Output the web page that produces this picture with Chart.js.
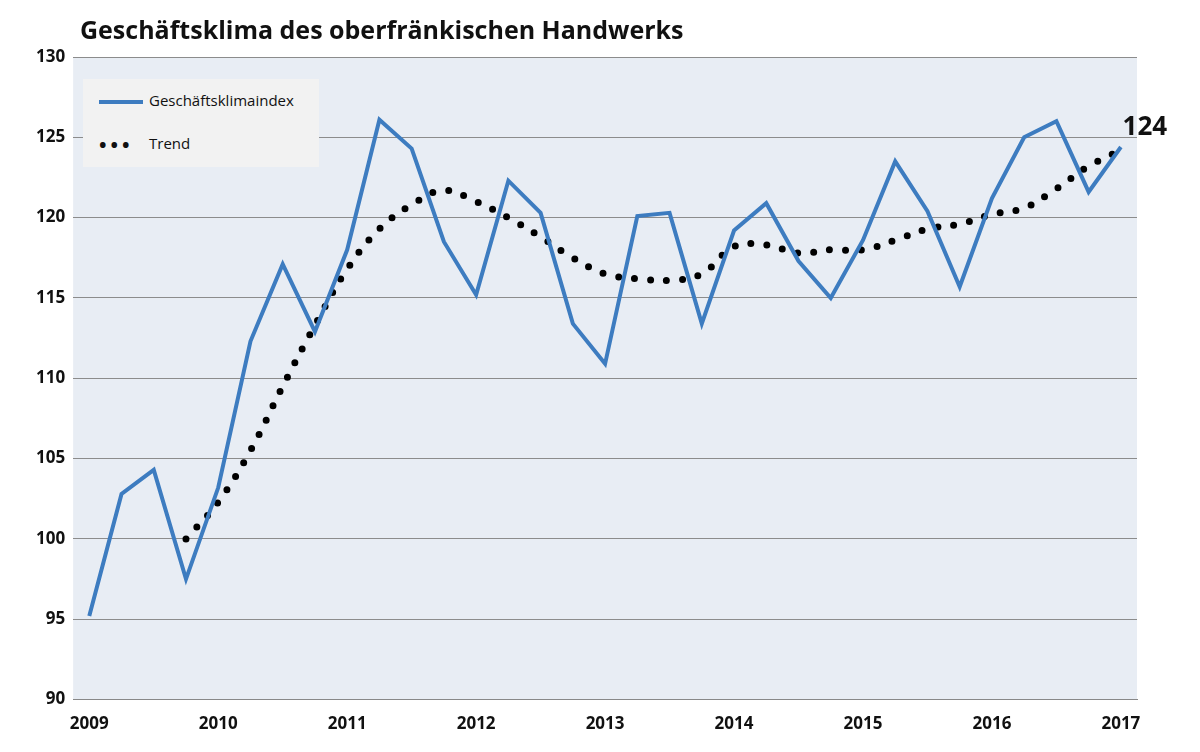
<!DOCTYPE html>
<html><head><meta charset="utf-8">
<script src="https://cdn.jsdelivr.net/npm/chart.js@4"></script>
<style>
body{margin:0;background:#fff;font-family:"Open Sans",sans-serif}
#wrap{position:relative;width:1200px;height:752px}
#title{position:absolute;left:80px;top:12px;font-size:25px;font-weight:bold;color:#111}
#legend{position:absolute;left:83px;top:79px;width:236px;height:88px;background:#f2f2f2;font-size:15px;color:#111}
#legend div{position:absolute;left:16px}
</style></head><body>
<div id="wrap">
<canvas id="c" width="1200" height="752"></canvas>
<div id="title">Geschäftsklima des oberfränkischen Handwerks</div>
<div id="legend">
<div style="top:11px"><span style="display:inline-block;width:44px;height:4px;background:#3d7cc0;vertical-align:middle;margin-right:6px"></span>Geschäftsklimaindex</div>
<div style="top:54px"><span style="display:inline-block;width:44px;vertical-align:middle;margin-right:6px;letter-spacing:4px;font-size:20px;line-height:10px;font-weight:bold">•••</span>Trend</div>
</div>
</div>
<script>
const quarters = [];
for (let y = 2009; y <= 2017; y++) for (let q = 1; q <= 4; q++) if (!(y === 2017 && q > 1)) quarters.push(y + ' Q' + q);

const klima = [95.2, 102.8, 104.3, 97.5, 103.2, 112.3, 117.1, 112.9, 118.0, 126.1, 124.3, 118.5,
  115.2, 122.3, 120.3, 113.4, 110.9, 120.1, 120.3, 113.4, 119.2, 120.9, 117.3, 115.0,
  118.6, 123.5, 120.4, 115.7, 121.2, 125.0, 126.0, 121.6, 124.4];

const trend = [null, null, null, 100.0, 102.3, 105.5, 109.5, 113.3, 116.8, 119.3, 120.8, 121.7,
  121.0, 120.0, 118.8, 117.5, 116.5, 116.2, 116.1, 116.5, 118.2, 118.3, 117.8, 118.0,
  118.0, 118.6, 119.3, 119.6, 120.2, 120.6, 121.8, 123.2, 124.2];

const plotBg = {
  id: 'plotBg',
  beforeDraw(chart) {
    const {ctx, chartArea: a} = chart;
    ctx.save();
    ctx.fillStyle = '#e8edf4';
    ctx.fillRect(a.left, a.top, a.right - a.left, a.bottom - a.top);
    ctx.restore();
  },
  afterDatasetsDraw(chart) {
    const {ctx} = chart;
    const m = chart.getDatasetMeta(0).data;
    const p = m[m.length - 1];
    ctx.save();
    ctx.font = 'bold 26px "Open Sans"';
    ctx.fillStyle = '#111';
    ctx.textAlign = 'center';
    ctx.fillText(Math.round(klima[klima.length - 1]), p.x + 24, p.y - 12);
    ctx.restore();
  }
};

new Chart(document.getElementById('c'), {
  type: 'line',
  data: {
    labels: quarters,
    datasets: [
      {label: 'Geschäftsklimaindex', data: klima, borderColor: '#3d7cc0', borderWidth: 4, pointRadius: 0, tension: 0},
      {label: 'Trend', data: trend, borderColor: '#000', borderWidth: 7, borderDash: [0, 16], borderCapStyle: 'round', pointRadius: 0, tension: 0.4, spanGaps: false}
    ]
  },
  options: {
    responsive: false,
    animation: false,
    layout: {padding: {left: 28, right: 63, top: 57, bottom: 12}},
    plugins: {legend: {display: false}, tooltip: {enabled: false}},
    scales: {
      x: {
        offset: true,
        grid: {display: false},
        border: {color: '#888'},
        ticks: {
          autoSkip: false, maxRotation: 0, color: '#111', padding: 6,
          font: {family: 'Open Sans', size: 17, weight: 'bold'},
          callback: (v, i) => i % 4 === 0 ? quarters[i].slice(0, 4) : ''
        }
      },
      y: {
        min: 90, max: 130,
        grid: {color: '#8c8c8c', drawTicks: false},
        border: {display: false},
        ticks: {stepSize: 5, padding: 8, color: '#111', font: {family: 'Open Sans', size: 17, weight: 'bold'}}
      }
    }
  },
  plugins: [plotBg]
});
</script>
</body></html>
